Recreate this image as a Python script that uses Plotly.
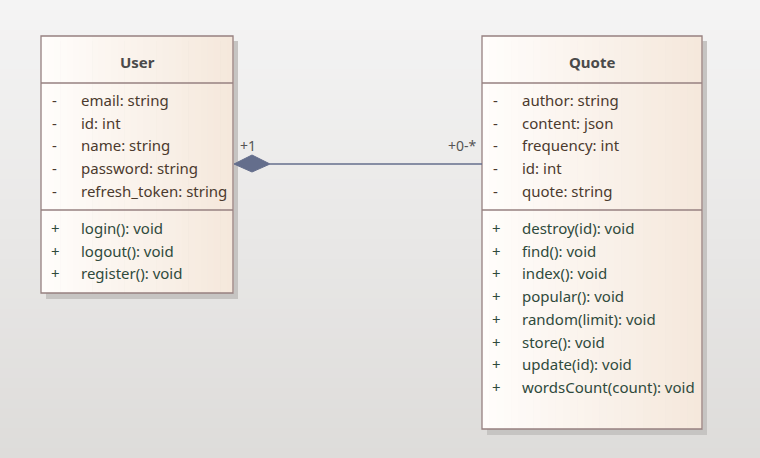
import plotly.graph_objects as go

# class contents
user_name = "User"
user_attrs = ["email: string", "id: int", "name: string", "password: string", "refresh_token: string"]
user_ops = ["login(): void", "logout(): void", "register(): void"]

quote_name = "Quote"
quote_attrs = ["author: string", "content: json", "frequency: int", "id: int", "quote: string"]
quote_ops = ["destroy(id): void", "find(): void", "index(): void", "popular(): void",
             "random(limit): void", "store(): void", "update(id): void", "wordsCount(count): void"]

# association end labels
end_user = "+1"
end_quote = "+0-*"

W, H = 760, 458
FONT = "Noto Sans"
ROW = 22.7


def mix(c1, c2, t):
    return "rgb(%d,%d,%d)" % tuple(round(a + (b - a) * t) for a, b in zip(c1, c2))


shapes = []
annotations = []

# background gradient (light top -> grey bottom)
n = 46
for i in range(n):
    shapes.append(dict(type="rect", x0=0, x1=W, y0=H * i / n, y1=H * (i + 1) / n + 1,
                       fillcolor=mix((244, 244, 244), (222, 220, 218), i / (n - 1)),
                       line_width=0, layer="below"))


def draw_class(x0, y0, x1, y1, name, attrs, ops):
    # shadow
    shapes.append(dict(type="rect", x0=x0 + 5, x1=x1 + 5, y0=y0 + 5, y1=y1 + 6,
                       fillcolor="rgb(198,196,194)", line_width=0, layer="below"))
    # gradient fill
    m = 30
    for i in range(m):
        shapes.append(dict(type="rect", x0=x0 + (x1 - x0) * i / m, x1=x0 + (x1 - x0) * (i + 1) / m + 0.6,
                           y0=y0, y1=y1, fillcolor=mix((255, 253, 251), (245, 232, 220), i / (m - 1)),
                           line_width=0, layer="below"))
    border = dict(color="rgb(150,128,128)", width=1.3)
    shapes.append(dict(type="rect", x0=x0, x1=x1, y0=y0, y1=y1, line=border, layer="above"))
    shapes.append(dict(type="line", x0=x0, x1=x1, y0=y0 + 47, y1=y0 + 47, line=border))
    div = y0 + 64 + ROW * len(attrs) - 3.5
    shapes.append(dict(type="line", x0=x0, x1=x1, y0=div, y1=div, line=border))

    annotations.append(dict(x=(x0 + x1) / 2, y=y0 + 26, text="<b>%s</b>" % name, showarrow=False,
                            font=dict(family=FONT, size=15, color="#4a4a4a")))
    for i, a in enumerate(attrs):
        y = y0 + 64 + ROW * i
        annotations.append(dict(x=x0 + 9, y=y, text="-", xanchor="left", showarrow=False,
                                font=dict(family=FONT, size=15, color="#4b3a2e")))
        annotations.append(dict(x=x0 + 38, y=y, text=a, xanchor="left", showarrow=False,
                                font=dict(family=FONT, size=15, color="#4b3a2e")))
    for i, o in enumerate(ops):
        y = div + 18 + ROW * i
        annotations.append(dict(x=x0 + 8, y=y, text="+", xanchor="left", showarrow=False,
                                font=dict(family=FONT, size=15, color="#2f4a3c")))
        annotations.append(dict(x=x0 + 38, y=y, text=o, xanchor="left", showarrow=False,
                                font=dict(family=FONT, size=15, color="#2f4a3c")))


draw_class(41, 36, 233, 293, user_name, user_attrs, user_ops)
draw_class(482, 36, 702, 429, quote_name, quote_attrs, quote_ops)

# composition line with diamond
ly = 164
shapes.append(dict(type="line", x0=270, x1=482, y0=ly, y1=ly, line=dict(color="rgb(100,110,140)", width=1.5)))
shapes.append(dict(type="path", path="M 234 %d L 252 %d L 270 %d L 252 %d Z" % (ly, ly - 8.5, ly, ly + 8.5),
                   fillcolor="rgb(100,110,140)", line=dict(color="rgb(100,110,140)", width=1)))
annotations.append(dict(x=238, y=145, text=end_user, xanchor="left", showarrow=False,
                        font=dict(family=FONT, size=14, color="#555555")))
annotations.append(dict(x=479, y=145, text=end_quote, xanchor="right", showarrow=False,
                        font=dict(family=FONT, size=14, color="#555555")))

fig = go.Figure()
fig.update_layout(width=W, height=H, margin=dict(l=0, r=0, t=0, b=0),
                  paper_bgcolor="rgb(236,236,236)", plot_bgcolor="rgb(236,236,236)",
                  xaxis=dict(range=[0, W], visible=False, fixedrange=True),
                  yaxis=dict(range=[H, 0], visible=False, fixedrange=True),
                  shapes=shapes, annotations=annotations, showlegend=False)
fig.write_html("out.html", config={"displayModeBar": False},
               post_script="document.body.style.margin='0';")
